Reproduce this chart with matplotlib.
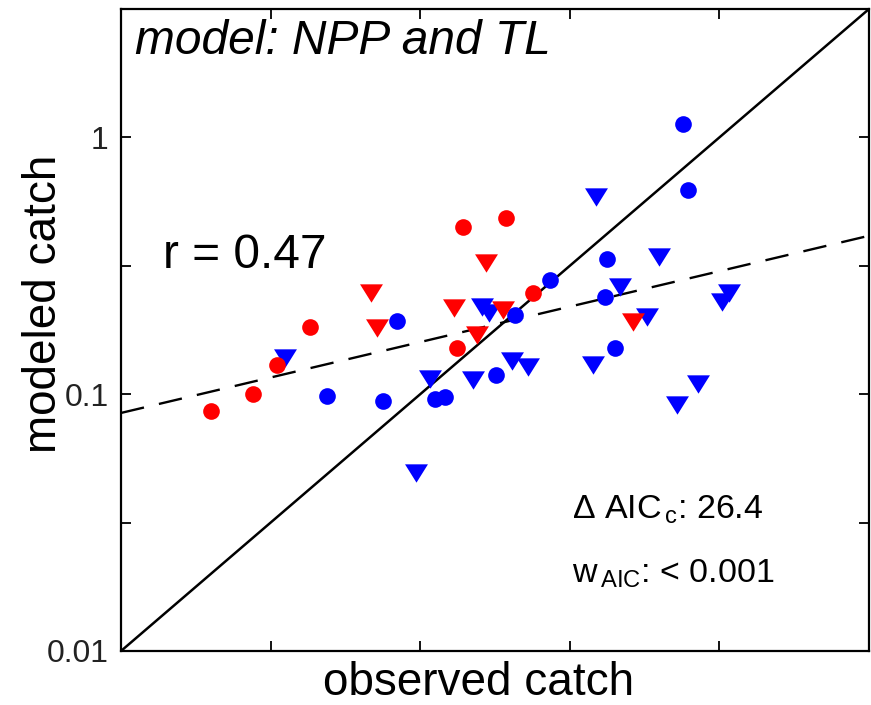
import numpy as np
import matplotlib
matplotlib.use("Agg")
import matplotlib.pyplot as plt

plt.rcParams['font.family'] = ['Liberation Sans', 'DejaVu Sans']
plt.rcParams['mathtext.fontset'] = 'custom'
plt.rcParams['mathtext.rm'] = 'Liberation Sans'
plt.rcParams['mathtext.it'] = 'Liberation Sans:italic'

# data (observed, modeled)
red_circ_obs = [0.0200, 0.0276, 0.0332, 0.0428, 0.139, 0.194, 0.133, 0.238]
red_circ_mod = [0.0861, 0.1002, 0.130, 0.183, 0.448, 0.485, 0.151, 0.248]

red_tri_obs = [0.0685, 0.0717, 0.130, 0.166, 0.189, 0.155, 0.514]
red_tri_mod = [0.248, 0.181, 0.217, 0.324, 0.213, 0.170, 0.191]

blue_circ_obs = [0.0836, 0.0488, 0.0751, 0.112, 0.121, 0.179, 0.207, 0.272,
                 0.755, 0.786, 0.421, 0.415, 0.448]
blue_circ_mod = [0.193, 0.0984, 0.0941, 0.0958, 0.0975, 0.119, 0.203, 0.278,
                 1.128, 0.624, 0.336, 0.239, 0.151]

blue_tri_obs = [0.0353, 0.0968, 0.108, 0.150, 0.161, 0.170, 0.203, 0.229,
                0.387, 0.628, 0.465, 0.573, 0.378, 1.02, 1.077, 0.848, 0.722]
blue_tri_mod = [0.138, 0.0493, 0.115, 0.114, 0.219, 0.207, 0.135, 0.128,
                0.586, 0.342, 0.262, 0.200, 0.130, 0.229, 0.248, 0.110, 0.0908]

# log-log fit: log10(mod) = fit_a + fit_b * log10(obs)
fit_a = -0.521
fit_b = 0.276

lims = [0.01, 10 ** 0.5]
ticks = [10 ** -1.5, 0.1, 10 ** -0.5, 1]

fig = plt.figure(figsize=(8.71, 7.05), dpi=100)
ax = fig.add_axes([121 / 871, 54 / 705, 748 / 871, 642 / 705])

xx = np.array(lims)
ax.plot(xx, xx, color='black', lw=1.8, zorder=2)
ax.plot(xx, 10 ** fit_a * xx ** fit_b, color='black', lw=1.7,
        dashes=(10, 6.5), zorder=2)

tri = [(-1, 0.8), (1, 0.8), (0, -0.8)]
ax.scatter(blue_tri_obs, blue_tri_mod, marker=tri, s=16.5 ** 2, color='#0000ff',
           linewidths=0, zorder=3)
ax.scatter(blue_circ_obs, blue_circ_mod, marker='o', s=12 ** 2, color='#0000ff',
           linewidths=0, zorder=3)
ax.scatter(red_tri_obs, red_tri_mod, marker=tri, s=16.5 ** 2, color='#ff0000',
           linewidths=0, zorder=4)
ax.scatter(red_circ_obs, red_circ_mod, marker='o', s=12 ** 2, color='#ff0000',
           linewidths=0, zorder=4)

ax.set_xscale('log')
ax.set_yscale('log')
ax.set_xlim(lims)
ax.set_ylim(lims)

ax.set_xticks(ticks)
ax.set_xticklabels([])
ax.set_yticks([0.01, 10 ** -1.5, 0.1, 10 ** -0.5, 1])
ax.set_yticklabels(['0.01', '', '0.1', '', '1'])
ax.minorticks_off()
ax.tick_params(direction='in', length=7, width=1.3, top=True, right=True,
               labelsize=23, labelcolor='#222222', pad=9)
for s in ax.spines.values():
    s.set_linewidth(1.6)

ax.text(0.019, 0.93, 'model: NPP and TL', transform=ax.transAxes,
        fontsize=34.5, style='italic', ha='left', va='baseline')
ax.text(0.056, 0.596, 'r = 0.47', transform=ax.transAxes,
        fontsize=34.5, ha='left', va='baseline')
ax.text(0.603, 0.207, r'$\Delta$ AIC$_{\,\mathrm{c}}$: 26.4', transform=ax.transAxes,
        fontsize=24.5, ha='left', va='baseline')
ax.text(0.603, 0.106, r'w$_{\,\mathrm{AIC}}$: < 0.001', transform=ax.transAxes,
        fontsize=24.5, ha='left', va='baseline')

fig.text(56 / 871, 1 - 304 / 705, 'modeled catch', rotation=90, fontsize=33,
         ha='center', va='baseline', rotation_mode='anchor')
fig.text(479 / 871, 10 / 705, 'observed catch', fontsize=33,
         ha='center', va='baseline')

fig.savefig('out.png', dpi=100)
